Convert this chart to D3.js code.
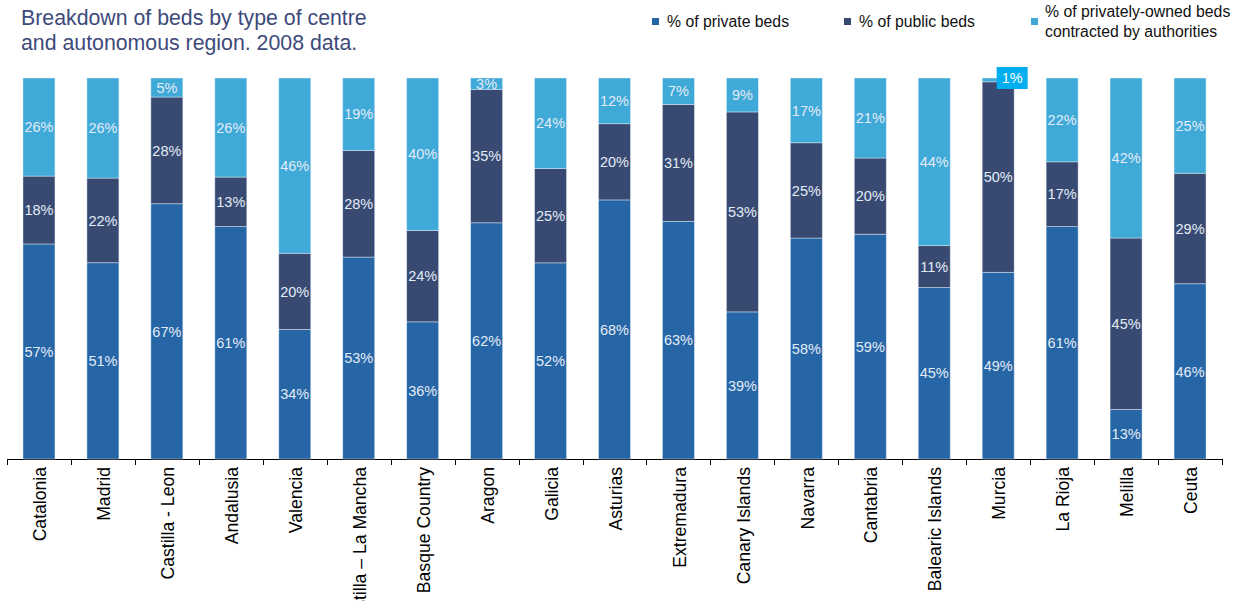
<!DOCTYPE html>
<html>
<head>
<meta charset="utf-8">
<script src="https://cdn.jsdelivr.net/npm/d3@7"></script>
<style>
  html, body { margin: 0; padding: 0; background: #fff; }
  svg { display: block; font-family: "Liberation Sans", Arial, sans-serif; }
</style>
</head>
<body>
<svg id="chart" width="1239" height="601"></svg>
<script>
// Regions and the share of beds of each type (%), 2008
const regions = ["Catalonia", "Madrid", "Castilla - Leon", "Andalusia", "Valencia",
  "Castilla – La Mancha", "Basque Country", "Aragon", "Galicia", "Asturias",
  "Extremadura", "Canary Islands", "Navarra", "Cantabria", "Balearic Islands",
  "Murcia", "La Rioja", "Melilla", "Ceuta"];
const privateBeds    = [57, 51, 67, 61, 34, 53, 36, 62, 52, 68, 63, 39, 58, 59, 45, 49, 61, 13, 46];
const publicBeds     = [18, 22, 28, 13, 20, 28, 24, 35, 25, 20, 31, 53, 25, 20, 11, 50, 17, 45, 29];
const contractedBeds = [26, 26,  5, 26, 46, 19, 40,  3, 24, 12,  7,  9, 17, 21, 44,  1, 22, 42, 25];

const seriesKeys = ["private", "public", "contracted"];
const seriesNames = ["% of private beds", "% of public beds",
  ["% of privately-owned beds", "contracted by authorities"]];
const colors = { private: "#2766a6", public: "#394a72", contracted: "#3fa9d8" };

const rows = regions.map((r, i) => ({
  region: r, private: privateBeds[i], public: publicBeds[i], contracted: contractedBeds[i]
}));

const svg = d3.select("#chart");
const plotTop = 78, plotBottom = 459, left = 7, right = 1222;

const x = d3.scaleBand().domain(regions).range([left, right])
  .paddingInner(0.5).paddingOuter(0.25);
const y = d3.scaleLinear().domain([0, 1]).range([plotBottom, plotTop]);

const stacked = d3.stack().keys(seriesKeys).offset(d3.stackOffsetExpand)(rows);

// Title
const title = svg.append("text").attr("x", 21).attr("y", 25)
  .attr("font-size", 21.3).attr("fill", "#3e4a7a");
title.append("tspan").attr("x", 21).text("Breakdown of beds by type of centre");
title.append("tspan").attr("x", 21).attr("dy", 25).text("and autonomous region. 2008 data.");

// Legend
const legendX = [652, 844, 1031];
seriesKeys.forEach((k, i) => {
  const g = svg.append("g").attr("transform", `translate(${legendX[i]},0)`);
  g.append("rect").attr("x", 0).attr("y", 18).attr("width", 7).attr("height", 7)
    .attr("fill", colors[k]);
  const name = seriesNames[i];
  if (Array.isArray(name)) {
    const t = g.append("text").attr("font-size", 15.8).attr("fill", "#111");
    t.append("tspan").attr("x", 14).attr("y", 17).text(name[0]);
    t.append("tspan").attr("x", 14).attr("y", 37).text(name[1]);
  } else {
    g.append("text").attr("x", 15).attr("y", 27).attr("font-size", 15.8)
      .attr("fill", "#111").text(name);
  }
});

// Axis line and category separators
const step = x.step();
const gap = step - x.bandwidth();
const axisG = svg.append("g");
axisG.append("line").attr("x1", left).attr("x2", right)
  .attr("y1", plotBottom + 0.5).attr("y2", plotBottom + 0.5)
  .attr("stroke", "#000").attr("stroke-width", 1);
const boundaries = regions.map(r => x(r) - gap / 2).concat([x(regions[regions.length - 1]) + x.bandwidth() + gap / 2]);
axisG.selectAll("line.tick").data(boundaries).join("line")
  .attr("class", "tick")
  .attr("x1", d => Math.round(d) + 0.5).attr("x2", d => Math.round(d) + 0.5)
  .attr("y1", plotBottom).attr("y2", plotBottom + 6)
  .attr("stroke", "#000");

// Stacked bars
const layers = svg.append("g").selectAll("g").data(stacked).join("g")
  .attr("fill", d => colors[d.key]);
layers.selectAll("rect").data(d => d).join("rect")
  .attr("x", d => x(d.data.region))
  .attr("width", x.bandwidth())
  .attr("y", d => y(d[1]))
  .attr("height", d => y(d[0]) - y(d[1]))
  .attr("stroke", "rgba(230,240,250,0.55)")
  .attr("stroke-width", 0.8);

// Value labels
stacked.forEach(layer => {
  layer.forEach(d => {
    const v = d.data[layer.key];
    const cx = x(d.data.region) + x.bandwidth() / 2;
    const h = y(d[0]) - y(d[1]);
    if (h < 6) {
      // Too thin to hold its label: boxed callout above the bar
      const g = svg.append("g");
      const bx = cx + 14, by = y(d[1]);
      g.append("rect").attr("x", bx - 15.5).attr("y", by - 11)
        .attr("width", 31).attr("height", 22).attr("fill", "#00aeef");
      g.append("text").attr("x", bx).attr("y", by).attr("dy", "0.36em")
        .attr("text-anchor", "middle").attr("font-size", 14.5)
        .attr("fill", "#fff").text(v + "%");
    } else {
      svg.append("text").attr("x", cx).attr("y", (y(d[0]) + y(d[1])) / 2)
        .attr("dy", "0.36em").attr("text-anchor", "middle")
        .attr("font-size", 14.5).attr("fill", "#e3ecf6").text(v + "%");
    }
  });
});

// Category labels, rotated
svg.append("g").selectAll("text").data(regions).join("text")
  .attr("transform", d => `translate(${x(d) + x.bandwidth() / 2 + 1},467) rotate(-90)`)
  .attr("text-anchor", "end").attr("dy", "0.35em")
  .attr("font-size", 17.6).attr("fill", "#000")
  .text(d => d);
</script>
</body>
</html>
